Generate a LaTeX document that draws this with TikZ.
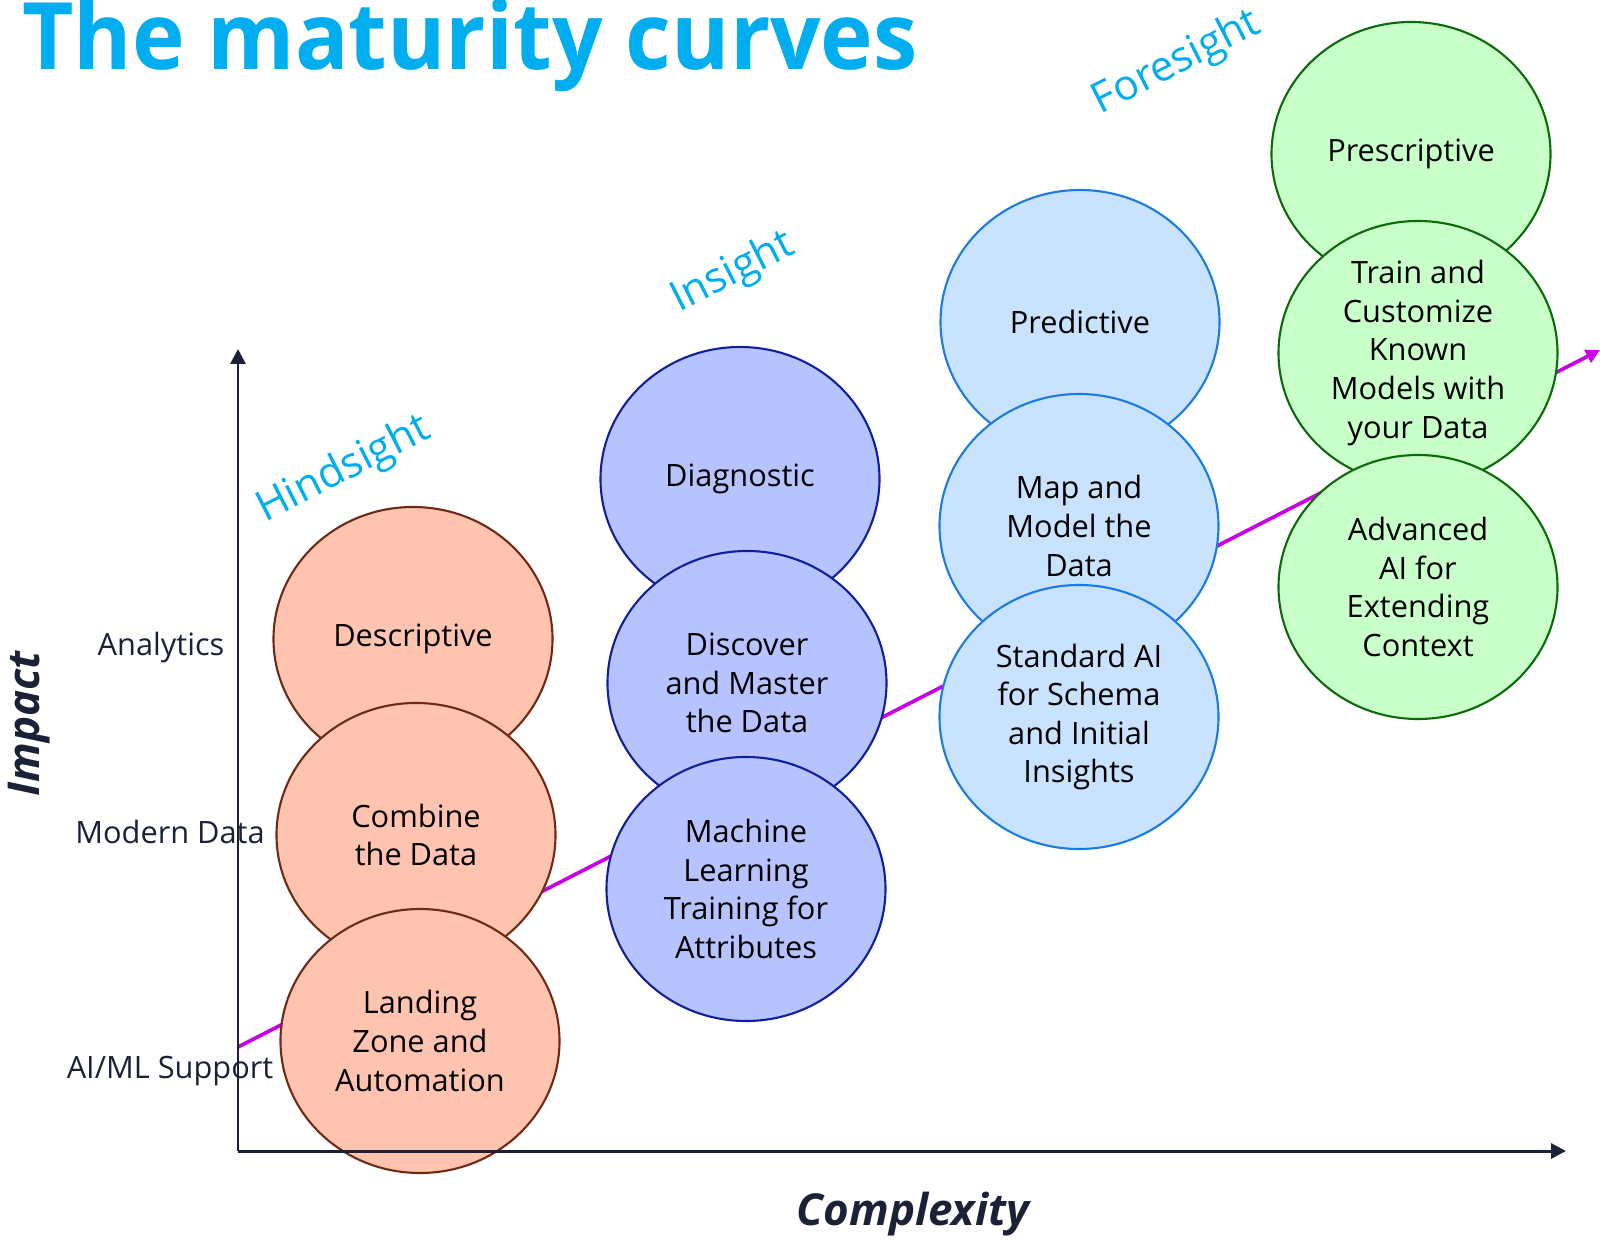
\documentclass[tikz,border=0pt]{standalone}
\usepackage{fontspec}
\setmainfont{Open Sans}
\usetikzlibrary{positioning,arrows.meta,shapes.geometric}
\definecolor{matcyan}{HTML}{00AEEF}
\definecolor{matink}{HTML}{1B2235}
\definecolor{mattrendline}{HTML}{C800E6}
\definecolor{matsalmonfill}{HTML}{FFC4B0}
\definecolor{matsalmonline}{HTML}{6E2A14}
\definecolor{matbluefill}{HTML}{B7C3FF}
\definecolor{matblueline}{HTML}{10209A}
\definecolor{matskyfill}{HTML}{C9E3FF}
\definecolor{matskyline}{HTML}{1A7BE0}
\definecolor{matgreenfill}{HTML}{C9FFC9}
\definecolor{matgreenline}{HTML}{0B6B0B}
\tikzset{
    matstage/.style={draw, ellipse, line width=1.2pt, minimum width=5.58cm, minimum height=5.28cm, inner sep=0pt, align=center, font=\fontsize{17.5}{22}\selectfont},
    matsalmon/.style={matstage, fill=matsalmonfill, draw=matsalmonline},
    matblue/.style={matstage, fill=matbluefill, draw=matblueline},
    matsky/.style={matstage, fill=matskyfill, draw=matskyline},
    matgreen/.style={matstage, fill=matgreenfill, draw=matgreenline},
    mataxis/.style={draw=matink, line width=1.7pt, -{Triangle[length=3mm, width=3mm]}},
    mattrend/.style={draw=mattrendline, line width=2.1pt, -{Triangle[length=2.8mm, width=2.8mm]}},
    matphase/.style={text=matcyan, font=\fontsize{24}{28}\selectfont, rotate=27},
    matlevel/.style={text=matink, font=\fontsize{17.5}{22}\selectfont},
    mataxistitle/.style={text=matink, font=\bfseries\itshape\fontsize{25}{30}\selectfont}
}
\begin{document}
\begin{tikzpicture}[x=0.2mm, y=-0.2mm]
    \useasboundingbox (0,0) rectangle (1600,1242);
    \node[anchor=base west, inner sep=0pt, text=matcyan, font=\bfseries\fontsize{53}{60}\selectfont, xscale=0.955] (title) at (22,70) {The maturity curves};

    % trend line behind the stages
    \coordinate (trendstart) at (238,1047);
    \coordinate (trendend) at (1600,350);
    \draw[mattrend] (trendstart) -- (trendend);

    % hindsight
    \node[matsalmon] (desc) at (413,639) {Descriptive};
    \node[matsalmon] (combine) at (416,835) {Combine\\the Data};
    \node[matsalmon] (landing) at (420,1041) {Landing\\Zone and\\Automation};
    % insight
    \node[matblue] (diag) at (740,479) {Diagnostic};
    \node[matblue] (discover) at (747,683) {Discover\\and Master\\the Data};
    \node[matblue] (mltrain) at (746,889) {Machine\\Learning\\Training for\\Attributes};
    % foresight
    \node[matsky] (pred) at (1080,322) {Predictive};
    \node[matsky] (mapmodel) at (1079,526) {Map and\\Model the\\Data};
    \node[matsky] (stdai) at (1079,717) {Standard AI\\for Schema\\and Initial\\Insights};
    \node[matgreen] (presc) at (1411,154) {Prescriptive};
    \node[matgreen] (customize) at (1418,353) {Train and\\Customize\\Known\\Models with\\your Data};
    \node[matgreen] (advai) at (1418,587) {Advanced\\AI for\\Extending\\Context};

    % axes
    \coordinate (origin) at (238,1151);
    \coordinate (ytip) at (238,349);
    \coordinate (xtip) at (1566,1151);
    \draw[mataxis] (origin) -- (ytip);
    \draw[mataxis] (origin) -- (xtip);

    \node[matlevel] (analytics) at (161,648) {Analytics};
    \node[matlevel] (moderndata) at (170,832) {Modern Data};
    \node[matlevel] (aimlsupport) at (170,1071) {AI/ML Support};
    \node[mataxistitle, rotate=90] (impact) at (29,724) {Impact};
    \node[mataxistitle] (complexity) at (913,1214) {Complexity};

    \node[matphase] (hindsight) at (344,470) {Hindsight};
    \node[matphase] (insight) at (733,273) {Insight};
    \node[matphase] (foresight) at (1177,63) {Foresight};
\end{tikzpicture}
\end{document}
